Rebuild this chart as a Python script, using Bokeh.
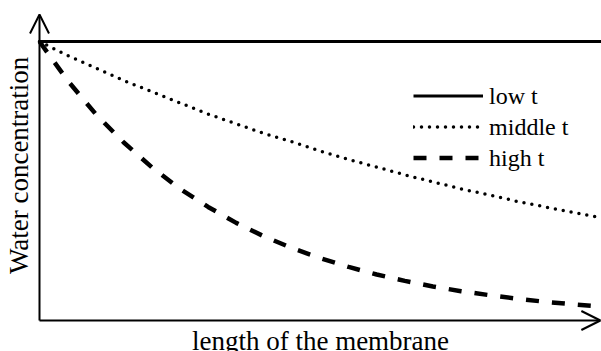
from bokeh.plotting import figure
from bokeh.models import Range1d, Arrow, OpenHead, Label, Legend, LegendItem
from bokeh.embed import file_html
from bokeh.resources import INLINE
import math

# membrane position (normalised) and water concentration (normalised)
position = [0.0, 0.05, 0.10, 0.15, 0.20, 0.25, 0.30, 0.35, 0.40, 0.45, 0.50,
            0.55, 0.60, 0.65, 0.70, 0.75, 0.80, 0.85, 0.90, 0.95, 1.0]
low_t = [1.0] * len(position)
middle_t = [1.0, 0.95, 0.905, 0.86, 0.82, 0.78, 0.74, 0.705, 0.67, 0.64, 0.607,
            0.577, 0.55, 0.522, 0.497, 0.472, 0.45, 0.427, 0.407, 0.387, 0.368]
high_t = [1.0, 0.86, 0.74, 0.638, 0.549, 0.472, 0.407, 0.35, 0.301, 0.259, 0.223,
          0.192, 0.165, 0.142, 0.122, 0.105, 0.091, 0.078, 0.067, 0.058, 0.05]
series_names = ["low t", "middle t", "high t"]

FONT = "Liberation Serif"

p = figure(width=601, height=351, output_backend="svg", toolbar_location=None,
           x_range=Range1d(-0.0694, 1.0), y_range=Range1d(-0.1111, 1.147),
           min_border=0)
p.axis.visible = False
p.grid.visible = False
p.outline_line_color = None
p.background_fill_color = "white"
p.border_fill_color = "white"

r_low = p.line(position, low_t, line_color="black", line_width=3)
r_mid = p.line(position, middle_t, line_color="black", line_width=3.5,
               line_dash="0 8", line_cap="round")
r_high = p.line(position, high_t, line_color="black", line_width=4.5,
                line_dash="13 13")

# axes with open arrow heads
p.add_layout(Arrow(x_start=0, y_start=0, x_end=0.998, y_end=0,
                   line_width=2, line_color="black",
                   end=OpenHead(size=19, line_width=2, line_color="black")))
p.add_layout(Arrow(x_start=0, y_start=0, x_end=0, y_end=1.097,
                   line_width=2, line_color="black",
                   end=OpenHead(size=19, line_width=2, line_color="black")))

p.add_layout(Label(x=0.5, y=-0.074, text="length of the membrane",
                   text_font=FONT, text_font_size="27px", text_color="black",
                   text_align="center", text_baseline="middle"))
p.add_layout(Label(x=-0.0356, y=0.556, text="Water concentration",
                   angle=math.pi / 2, text_font=FONT, text_font_size="27px",
                   text_color="black", text_align="center",
                   text_baseline="middle"))

# legend: library legend draws the line samples, serif labels drawn alongside
legend = Legend(items=[LegendItem(label=series_names[0], renderers=[r_low]),
                       LegendItem(label=series_names[1], renderers=[r_mid]),
                       LegendItem(label=series_names[2], renderers=[r_high])],
                location=(413, 178), glyph_width=70, glyph_height=31,
                label_height=31, spacing=0, padding=0, margin=0,
                label_standoff=5, label_text_font=FONT,
                label_text_font_size="24px", label_text_alpha=0,
                border_line_color=None, background_fill_alpha=0)
p.add_layout(legend, "center")

legend_label_x = 0.80
legend_label_y = [0.806, 0.694, 0.581]
for name, ly in zip(series_names, legend_label_y):
    p.add_layout(Label(x=legend_label_x, y=ly, text=name, text_font=FONT,
                       text_font_size="24px", text_color="black",
                       text_align="left", text_baseline="middle"))

open("out.html", "w").write(file_html(p, INLINE))
